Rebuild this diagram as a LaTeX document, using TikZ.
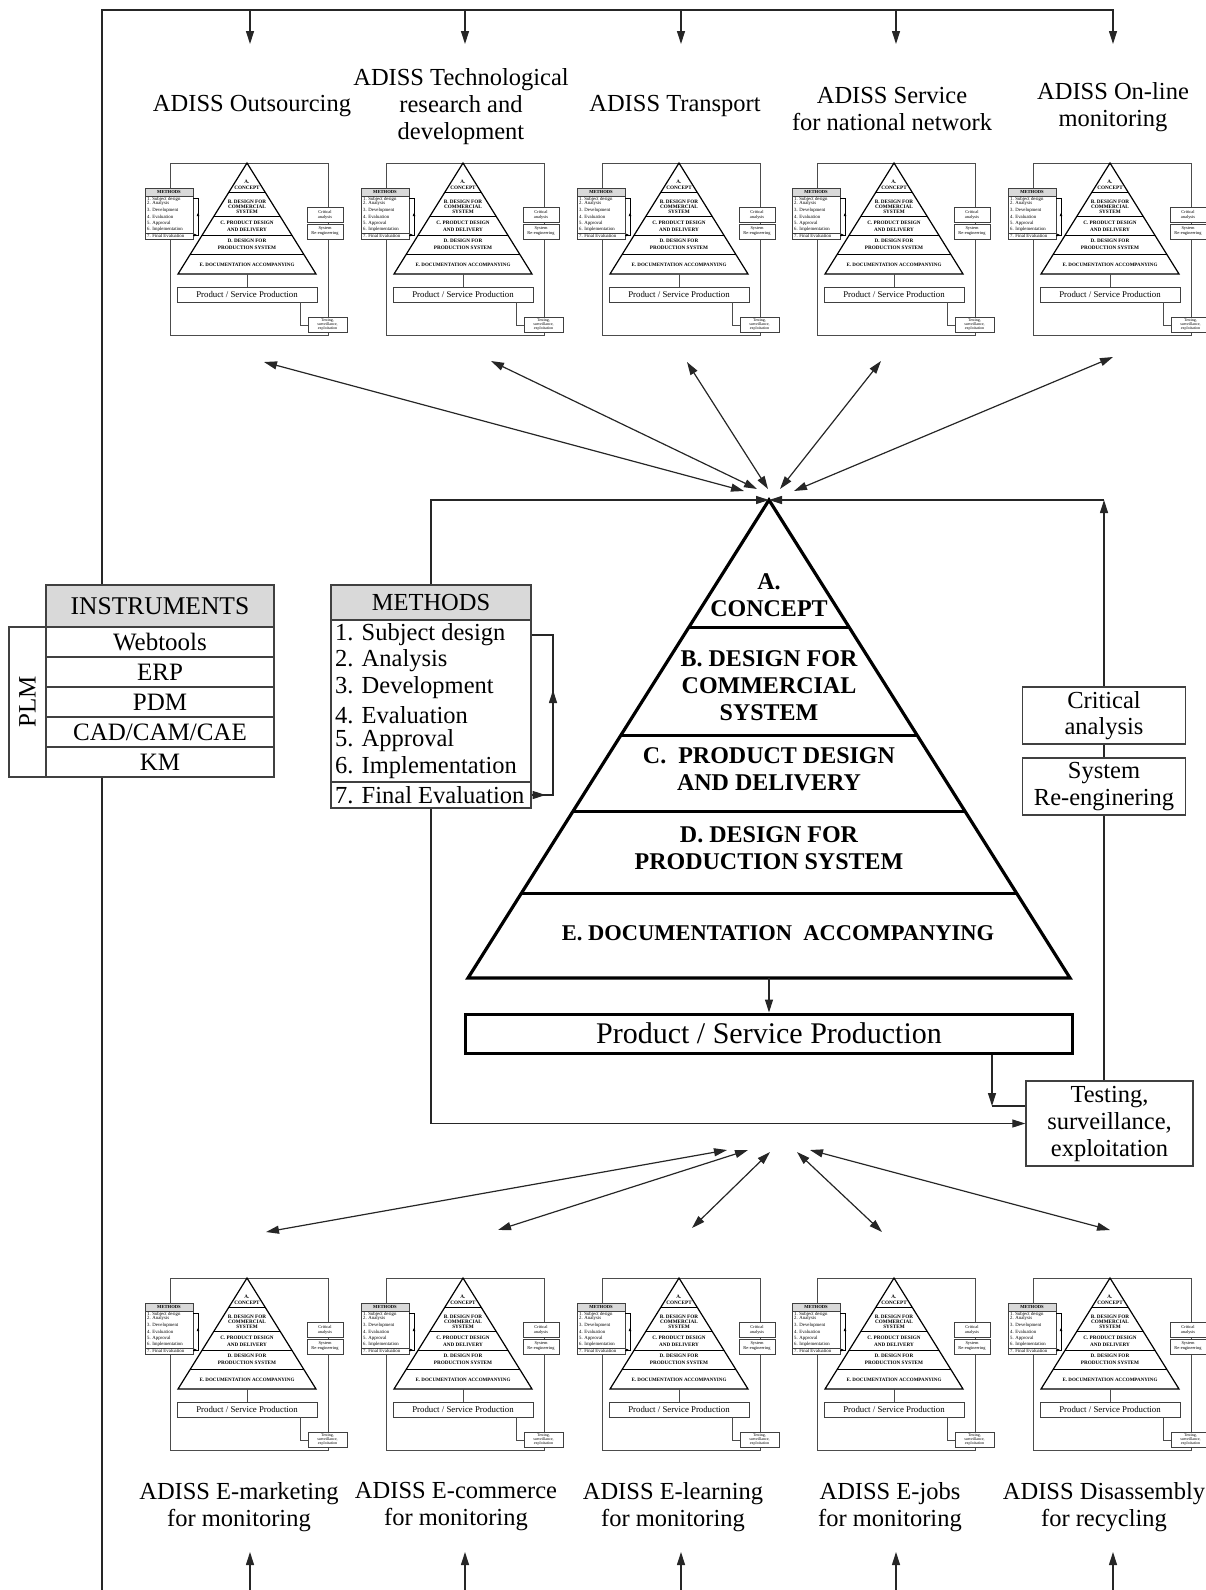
\documentclass[tikz,border=0pt]{standalone}
\usepackage{fontspec}
\setmainfont{Liberation Serif}
\usetikzlibrary{arrows.meta,calc}
\tikzset{
  conn/.style={draw=black!85, line width=1.2pt},
  tipend/.style={conn, -{Triangle[length=13pt,width=8pt]}},
  dbl/.style={conn, {Triangle[length=13pt,width=8pt]}-{Triangle[length=13pt,width=8pt]}},
  lbl/.style={inner sep=0pt, align=center, font=\fontsize{24.5}{27}\selectfont},
  txt/.style={inner sep=0pt, align=center, font=\fontsize{24.5}{26.5}\selectfont},
  plainbox/.style={draw=black!75, line width=1.3pt, fill=white, inner sep=0pt, align=center},
  hdrbox/.style={plainbox, fill=black!15},
  pyrtxt/.style={inner sep=0pt, align=center, font=\bfseries\fontsize{24}{27}\selectfont},
  tframe/.style={draw=black!70, line width=0.9pt},
  tpyr/.style={draw=black, line width=1.2pt},
  ttxt/.style={inner sep=0pt, align=center},
  tbox/.style={draw=black!75, line width=0.7pt, fill=white, inner sep=0pt, align=center},
  tsmall/.style={inner sep=0pt, anchor=west, font=\fontsize{4.8}{5}\selectfont},
  ttip/.style={draw=black, line width=0.6pt, -{Triangle[length=3pt,width=2.5pt]}},
}
\newcommand\thumbnail[3]{%
\begin{scope}[shift={(#2,#3)}]
  \draw[tframe] (0,0) rectangle (158,172);
  \coordinate (#1a) at (77,0);
  \coordinate (#1l) at (8,111);
  \coordinate (#1r) at (146,111);
  \draw[tpyr, fill=white] (#1a) -- (#1l) -- (#1r) -- cycle;
  \foreach \f in {0.27,0.486,0.649,0.82}
    \draw[tpyr, line width=1pt] ($(#1a)!\f!(#1l)$) -- ($(#1a)!\f!(#1r)$);
  \node[ttxt, font=\bfseries\fontsize{5.2}{6}\selectfont] (#1A) at (77,22) {A.\\CONCEPT};
  \node[ttxt, font=\bfseries\fontsize{5.2}{5}\selectfont] (#1B) at (77,44) {B. DESIGN FOR\\COMMERCIAL\\SYSTEM};
  \node[ttxt, font=\bfseries\fontsize{5.2}{7}\selectfont] (#1C) at (77,63.5) {C. PRODUCT DESIGN\\AND DELIVERY};
  \node[ttxt, font=\bfseries\fontsize{5.2}{7}\selectfont] (#1D) at (77,81) {D. DESIGN FOR\\PRODUCTION SYSTEM};
  \node[ttxt, font=\bfseries\fontsize{5}{6}\selectfont] (#1E) at (77,102) {E. DOCUMENTATION ACCOMPANYING};
  \node[tbox, minimum width=48, minimum height=43] (#1mb) at (-1,54.5) {};
  \node[tbox, fill=black!15, minimum width=48, minimum height=8, font=\bfseries\fontsize{4.6}{5}\selectfont] (#1mh) at (-1,29) {METHODS};
  \draw[tbox] (-25,70) -- (23,70);
  \node[tsmall] (#1m1) at (-23,36) {1. Subject design};
  \node[tsmall] (#1m2) at (-23,40) {2. Analysis};
  \node[tsmall] (#1m3) at (-23,47.5) {3. Development};
  \node[tsmall] (#1m4) at (-23,53.5) {4. Evaluation};
  \node[tsmall] (#1m5) at (-23,60) {5. Approval};
  \node[tsmall] (#1m6) at (-23,66) {6. Implementation};
  \node[tsmall] (#1m7) at (-23,73) {7. Final Evaluation};
  \draw[draw=black, line width=0.6pt] (23,35) -- (28,35) -- (28,72) -- (23,72);
  \draw[ttip] (23,72) -- (27,72);
  \draw[ttip] (28,60) -- (28,50);
  \node[tbox, minimum width=36, minimum height=15, font=\fontsize{4.4}{5}\selectfont] (#1ca) at (155,51.5) {Critical\\analysis};
  \node[tbox, minimum width=36, minimum height=15, font=\fontsize{4.4}{5}\selectfont] (#1sr) at (155,68.5) {System\\Re-engineering};
  \node[tbox, line width=0.9pt, minimum width=140, minimum height=15, font=\fontsize{8.8}{9}\selectfont] (#1pp) at (77,131.5) {Product / Service Production};
  \draw[tframe] (77,111) -- (#1pp.north);
  \draw[tframe] (130,139) -- (130,162) -- (138,162);
  \node[tbox, minimum width=39, minimum height=15, font=\fontsize{4}{4.4}\selectfont] (#1ts) at (157.5,161.5) {Testing,\\surveillance,\\exploitation};
\end{scope}}
\begin{document}
\begin{tikzpicture}[x=1pt,y=-1pt]
\useasboundingbox (0,0) rectangle (1206,1590);
\clip (0,0) rectangle (1206,1590);
% bus
\coordinate (busL) at (102,10);
\coordinate (busR) at (1114,10);
\coordinate (busB) at (102,1590);
\draw[conn] (busR) -- (busL) -- (busB);
\foreach \x [count=\i] in {250,465,681,896,1113} {
  \coordinate (ts\i) at (\x,10);
  \coordinate (te\i) at (\x,44);
  \draw[tipend] (ts\i) -- (te\i);
  \coordinate (bs\i) at (\x,1590);
  \coordinate (be\i) at (\x,1552);
  \draw[tipend] (bs\i) -- (be\i);
}
% top labels
\node[lbl] (l1) at (252,106) {ADISS Outsourcing};
\node[lbl] (l2) at (461,107) {ADISS Technological\\research and\\development};
\node[lbl] (l3) at (675,106) {ADISS Transport};
\node[lbl] (l4) at (892,109) {ADISS Service\\for national network};
\node[lbl] (l5) at (1113,107) {ADISS On-line\\monitoring};
% bottom labels
\node[lbl] (k1) at (239,1507) {ADISS E-marketing\\for monitoring};
\node[lbl] (k2) at (456,1507) {ADISS E-commerce\\for monitoring};
\node[lbl] (k3) at (673,1507) {ADISS E-learning\\for monitoring};
\node[lbl] (k4) at (890,1507) {ADISS E-jobs\\for monitoring};
\node[lbl] (k5) at (1104,1507) {ADISS Disassembly\\for recycling};
% thumbnails
\thumbnail{ta}{170}{163}
\thumbnail{tb}{386}{163}
\thumbnail{tc}{602}{163}
\thumbnail{td}{817}{163}
\thumbnail{te}{1033}{163}
\thumbnail{ua}{170}{1278}
\thumbnail{ub}{386}{1278}
\thumbnail{uc}{602}{1278}
\thumbnail{ud}{817}{1278}
\thumbnail{ue}{1033}{1278}
% double arrows top
\foreach \tx/\ty/\hx/\hy [count=\i] in {264/362/744/491, 491/361/757/489, 687/362/768/489, 881/361/780/489, 1113/357/794/491} {
  \coordinate (dt\i) at (\tx,\ty);
  \coordinate (dh\i) at (\hx,\hy);
  \draw[dbl] (dt\i) -- (dh\i);
}
\foreach \tx/\ty/\hx/\hy [count=\i] in {266/1232/727/1150, 498/1230/748/1150, 692/1228/770/1152, 882/1232/797/1152, 1110/1230/810/1150} {
  \coordinate (et\i) at (\tx,\ty);
  \coordinate (eh\i) at (\hx,\hy);
  \draw[dbl] (et\i) -- (eh\i);
}
% instruments
\node[hdrbox, line width=1.6pt, minimum width=228, minimum height=42, txt, font=\fontsize{25.5}{27}\selectfont] (ins) at (160,606) {INSTRUMENTS};
\node[plainbox, line width=1.6pt, minimum width=228, minimum height=30, txt, font=\fontsize{25}{27}\selectfont] (ins1) at (160,642) {Webtools};
\node[plainbox, line width=1.6pt, minimum width=228, minimum height=30, txt, font=\fontsize{25}{27}\selectfont] (ins2) at (160,672) {ERP};
\node[plainbox, line width=1.6pt, minimum width=228, minimum height=30, txt, font=\fontsize{25}{27}\selectfont] (ins3) at (160,702) {PDM};
\node[plainbox, line width=1.6pt, minimum width=228, minimum height=30, txt, font=\fontsize{25}{27}\selectfont] (ins4) at (160,732) {CAD/CAM/CAE};
\node[plainbox, line width=1.6pt, minimum width=228, minimum height=30, txt, font=\fontsize{25}{27}\selectfont] (ins5) at (160,762) {KM};
\node[plainbox, line width=1.6pt, minimum width=37, minimum height=150] (plm) at (27.5,702) {};
\node[txt, rotate=90, font=\fontsize{25}{27}\selectfont] (plmt) at (plm) {PLM};
% main pyramid
\coordinate (apex) at (769,500);
\coordinate (pl) at (468,978);
\coordinate (pr) at (1070,978);
\coordinate (pb) at (769,978);
\draw[line width=3.2pt, line join=miter, miter limit=20] (apex) -- (pl) -- (pr) -- cycle;
\foreach \f in {0.266,0.492,0.651,0.824}
  \draw[line width=3.2pt] ($(apex)!\f!(pl)$) -- ($(apex)!\f!(pr)$);
\node[pyrtxt] (pA) at (769,595.5) {A.\\CONCEPT};
\node[pyrtxt] (pB) at (769,686) {B. DESIGN FOR\\COMMERCIAL\\SYSTEM};
\node[pyrtxt] (pC) at (769,769) {C.\ \ PRODUCT DESIGN\\AND DELIVERY};
\node[pyrtxt] (pD) at (769,848) {D. DESIGN FOR\\PRODUCTION SYSTEM};
\node[pyrtxt, font=\bfseries\fontsize{22.5}{27}\selectfont] (pE) at (778,933) {E. DOCUMENTATION\ \ ACCOMPANYING};
% product box
\node[draw, line width=3pt, fill=white, inner sep=0pt, minimum width=607, minimum height=39, font=\fontsize{30}{32}\selectfont] (prod) at (769,1033.5) {Product / Service Production};
\draw[tipend] (pb) -- (prod.north);
% right boxes
\node[plainbox, minimum width=163, minimum height=57, txt] (crit) at (1104,715.5) {Critical\\analysis};
\node[plainbox, minimum width=163, minimum height=57, txt] (sys) at (1104,786.5) {System\\Re-enginering};
\node[plainbox, minimum width=167, minimum height=85, txt, font=\fontsize{24.5}{27}\selectfont] (test) at (1109.5,1123.5) {Testing,\\surveillance,\\exploitation};
\coordinate (cr) at (1104,500);
\draw[conn] (test.north -| crit.south) -- (sys.south);
\draw[conn] (sys.north) -- (crit.south);
\draw[tipend] (crit.north) -- (cr);
\draw[tipend] (cr) -- (apex);
% product to testing
\coordinate (pt) at (992,1106);
\draw[tipend] (prod.south -| pt) -- (pt);
\draw[conn] (pt) -- (pt -| test.west);
% methods
\node[plainbox, minimum width=200, minimum height=188] (mb) at (431,714) {};
\node[hdrbox, minimum width=200, minimum height=35, txt] (mh) at (431,602.5) {METHODS};
\draw[draw=black!75, line width=1.3pt] (331,782) -- (531,782);
\node[txt, anchor=west] (m1) at (335,635) {1. Subject design};
\node[txt, anchor=west] (m2) at (335,661) {2. Analysis};
\node[txt, anchor=west] (m3) at (335,688) {3. Development};
\node[txt, anchor=west] (m4) at (335,715) {4. Evaluation};
\node[txt, anchor=west] (m5) at (335,741) {5. Approval};
\node[txt, anchor=west] (m6) at (335,768) {6. Implementation};
\node[txt, anchor=west] (m7) at (335,795) {7. Final Evaluation};
\coordinate (bk1) at (553,635);
\coordinate (bk7) at (553,795);
\draw[conn] (mb.east |- m1) -- (bk1) -- (bk7) -- (mb.east |- m7);
\draw[tipend] (mb.east |- m7) -- ++(14,0);
\draw[tipend] (bk7) -- (553,690);
% left feedback
\coordinate (cl) at (431,500);
\draw[tipend] (mh.north -| cl) -- (cl) -- (apex);
\draw[tipend] (mb.south -| cl) |- (test.west);
\end{tikzpicture}
\end{document}
